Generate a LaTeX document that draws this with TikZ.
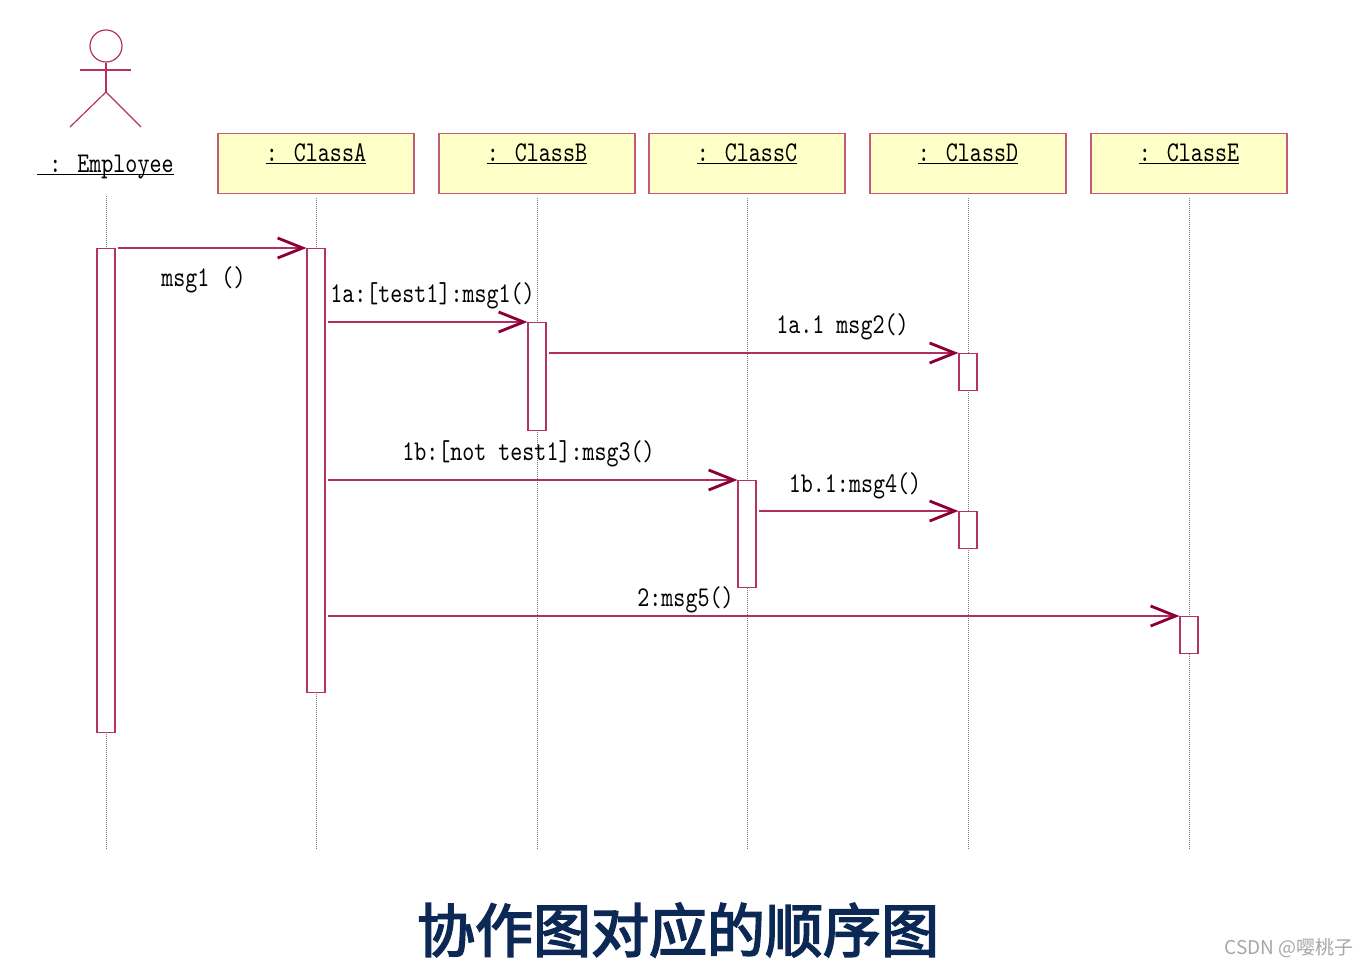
\documentclass[tikz,border=0pt]{standalone}
\usepackage{fontspec}
\newfontfamily\cjk{Noto Sans CJK SC}[AutoFakeBold=2.5]
\newfontfamily\cjktitle{Noto Sans CJK SC}[AutoFakeBold=3, BoldFeatures={FakeBold=1.2}]
\newfontfamily\mono{lmmono10-regular.otf}[FakeStretch=0.80]
\usetikzlibrary{arrows.meta}
\definecolor{linecol}{RGB}{180,45,95}
\definecolor{headcol}{RGB}{140,0,55}
\definecolor{boxfill}{RGB}{255,255,200}
\definecolor{boxdraw}{RGB}{195,90,120}
\definecolor{actcol}{RGB}{180,50,100}
\definecolor{titlecol}{RGB}{12,40,84}
\definecolor{lifecol}{RGB}{120,120,120}
\begin{document}
\begin{tikzpicture}[x=1pt,y=-1pt,
  act/.style={draw=actcol, fill=white, line width=1.2pt, minimum width=18pt, inner sep=0pt, anchor=north},
  cls/.style={draw=boxdraw, fill=boxfill, line width=1.2pt, minimum width=196pt, minimum height=60pt, inner sep=0pt, anchor=north},
  msg/.style={draw=linecol, line width=1.2pt, -{Straight Barb[length=25pt,width=20pt,line width=2.8pt,color=headcol]}},
  lbl/.style={font=\mono\fontsize{28.6}{32}\selectfont, anchor=base, inner sep=0pt},
  life/.style={draw=lifecol, line width=0.9pt, dash pattern=on 1pt off 1pt},
  actorline/.style={draw=actcol, line width=1.2pt}]
\useasboundingbox (0,0) rectangle (1368,968);
% actor
\node[circle, draw=actcol, line width=1.2pt, minimum size=32pt, inner sep=0pt] (head) at (106,46) {};
\coordinate (armL) at (80,70);
\coordinate (armR) at (131,70);
\coordinate (hip) at (106,92);
\coordinate (legL) at (70,127);
\coordinate (legR) at (141,127);
\draw[actorline] (armL) -- (armR);
\draw[actorline] (head.south) -- (hip);
\draw[actorline] (legL) -- (hip) -- (legR);
\node[lbl] (emp) at (105.5,173) {\underline{\smash{\ : Employee}}};
% class boxes
\node[cls] (A) at (316,133) {};
\node[cls] (B) at (537,133) {};
\node[cls] (C) at (747,133) {};
\node[cls] (D) at (968,133) {};
\node[cls] (E) at (1189,133) {};
\node[lbl] (tA) at ([yshift=-29pt]A.north) {\underline{\smash{: ClassA}}};
\node[lbl] (tB) at ([yshift=-29pt]B.north) {\underline{\smash{: ClassB}}};
\node[lbl] (tC) at ([yshift=-29pt]C.north) {\underline{\smash{: ClassC}}};
\node[lbl] (tD) at ([yshift=-29pt]D.north) {\underline{\smash{: ClassD}}};
\node[lbl] (tE) at ([yshift=-29pt]E.north) {\underline{\smash{: ClassE}}};
% lifelines
\coordinate (sEmp) at (106,196);
\coordinate (eEmp) at (106,850);
\coordinate (eA) at (316,850);
\coordinate (eB) at (537,850);
\coordinate (eC) at (747,850);
\coordinate (eD) at (968,850);
\coordinate (eE) at (1189,850);
\draw[life] (sEmp) -- (eEmp);
\draw[life] ([yshift=-4pt]A.south) -- (eA);
\draw[life] ([yshift=-4pt]B.south) -- (eB);
\draw[life] ([yshift=-4pt]C.south) -- (eC);
\draw[life] ([yshift=-4pt]D.south) -- (eD);
\draw[life] ([yshift=-4pt]E.south) -- (eE);
% activations
\node[act, minimum height=484pt] (aEmp) at (106,248) {};
\node[act, minimum height=444pt] (aA) at (316,248) {};
\node[act, minimum height=108pt] (aB) at (537,322) {};
\node[act, minimum height=37pt] (aD1) at (968,353) {};
\node[act, minimum height=107pt] (aC) at (747,480) {};
\node[act, minimum height=37pt] (aD2) at (968,511) {};
\node[act, minimum height=37pt] (aE) at (1189,616) {};
% messages
\draw[msg] ([xshift=2pt]aEmp.east |- aA.north west) -- (aA.north west);
\draw[msg] ([xshift=2pt]aA.east |- aB.north west) -- (aB.north west);
\draw[msg] ([xshift=2pt]aB.east |- aD1.north west) -- (aD1.north west);
\draw[msg] ([xshift=2pt]aA.east |- aC.north west) -- (aC.north west);
\draw[msg] ([xshift=2pt]aC.east |- aD2.north west) -- (aD2.north west);
\draw[msg] ([xshift=2pt]aA.east |- aE.north west) -- (aE.north west);
% labels
\node[lbl] (m1) at (203.5,287) {msg1 ()};
\node[lbl] (m2) at (432.5,302) {1a:[test1]:msg1()};
\node[lbl] (m3) at (842.5,334) {1a.1 msg2()};
\node[lbl] (m4) at (528.5,460) {1b:[not test1]:msg3()};
\node[lbl] (m5) at (855,492) {1b.1:msg4()};
\node[lbl] (m6) at (685.5,606) {2:msg5()};
% title and watermark
\node[font=\cjktitle\bfseries\fontsize{58}{60}\selectfont, text=titlecol, inner sep=0pt] (title) at (678,930) {协作图对应的顺序图};
\node[font=\cjk\fontsize{19}{20}\selectfont, text=black!35, anchor=east, inner sep=0pt] (wm) at (1354,948) {CSDN @嘤桃子};
\end{tikzpicture}
\end{document}
